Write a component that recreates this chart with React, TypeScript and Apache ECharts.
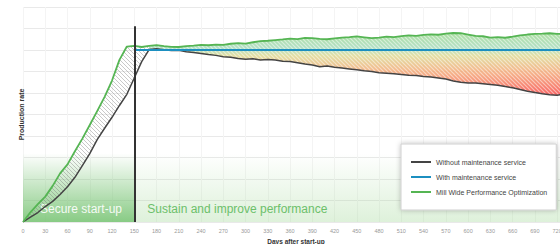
import React, { useEffect, useRef } from 'react';
import * as echarts from 'echarts';

// ---- data ----
const days = [
  0, 10, 20, 30, 40, 50, 60, 70, 80, 90, 100, 110, 120, 130, 140, 150, 160, 170,
  180, 190, 200, 210, 220, 230, 240, 250, 260, 270, 280, 290, 300, 310, 320, 330,
  340, 350, 360, 370, 380, 390, 400, 410, 420, 430, 440, 450, 460, 470, 480, 490,
  500, 510, 520, 530, 540, 550, 560, 570, 580, 590, 600, 610, 620, 630, 640, 650,
  660, 670, 680, 690, 700, 710, 720, 730,
];
const withoutService = [
  0, 2.3, 4.4, 7.2, 9.6, 12.8, 16.4, 20.8, 26.2, 31.8, 38.3, 43.6, 48.7, 54.2, 59.4, 67.0, 74.6, 80.2,
  80.6, 80.1, 79.8, 79.9, 79.2, 78.8, 78.4, 77.9, 77.5, 76.9, 76.6, 76.0, 75.7, 75.9, 75.4, 75.6,
  75.3, 74.8, 74.6, 74.1, 73.5, 73.0, 72.2, 72.6, 72.0, 71.6, 71.2, 70.8, 70.3, 70.0, 69.4, 69.2,
  68.9, 68.6, 68.3, 68.1, 67.7, 67.4, 67.0, 66.5, 65.6, 65.0, 64.7, 64.6, 64.3, 64.0, 63.6, 63.0,
  62.4, 61.6, 60.8, 60.2, 59.6, 59.2, 59.0, 59.4,
];
const millWide = [
  0, 4.5, 8.3, 11.8, 16.8, 22.6, 26.8, 32.9, 38.8, 45.1, 51.6, 58.2, 65.8, 75.4, 81.6, 81.9, 81.4, 81.9,
  82.3, 81.8, 81.5, 81.4, 81.8, 82.0, 82.4, 82.2, 82.5, 82.4, 82.9, 83.2, 83.0, 83.6, 84.1, 84.3,
  84.6, 84.9, 85.3, 85.1, 85.6, 85.5, 85.2, 85.0, 85.4, 85.8, 86.0, 86.3, 85.9, 85.5, 85.8, 86.2,
  86.0, 86.5, 86.8, 86.6, 87.0, 87.3, 87.1, 87.6, 87.9, 87.8, 87.2, 86.6, 86.4, 85.8, 86.0, 85.7,
  86.2, 86.8, 87.2, 87.5, 87.6, 87.8, 87.5, 87.4,
];
const withServiceDays = [150, 730];
const withServiceValues = [80, 80];
const phaseSplitDay = 150;
const rampEndDay = 170;
const phaseLabels = ['Secure start-up', 'Sustain and improve performance'];
const legendNames = [
  'Without maintenance service',
  'With maintenance service',
  'Mill Wide Performance Optimization',
];
const xName = 'Days after start-up';
const yName = 'Production rate';
const xMax = 736;
const xInterval = 30;

function makeHatch(size: number, color: string, lw: number) {
  const c = document.createElement('canvas');
  c.width = size;
  c.height = size;
  const ctx = c.getContext('2d')!;
  ctx.strokeStyle = color;
  ctx.lineWidth = lw;
  ctx.beginPath();
  ctx.moveTo(0, 0);
  ctx.lineTo(size, size);
  ctx.moveTo(size - 1, -1);
  ctx.lineTo(size + 1, 1);
  ctx.moveTo(-1, size - 1);
  ctx.lineTo(1, size + 1);
  ctx.stroke();
  return c;
}

function bandSeries(upper: number[][], lower: number[][], fill: any) {
  return {
    type: 'custom',
    silent: true,
    data: [[0, 0]],
    renderItem: (_params: any, api: any) => {
      const pts = upper
        .map((p) => api.coord(p))
        .concat(lower.slice().reverse().map((p) => api.coord(p)));
      return { type: 'polygon', shape: { points: pts }, style: { fill } };
    },
  };
}

export default function App() {
  const ref = useRef<HTMLDivElement>(null);
  useEffect(() => {
    const chart = echarts.init(ref.current!, null, { renderer: 'svg' });
    const rampIdx = days.indexOf(rampEndDay);
    const blackData = days.map((d, i) => [d, withoutService[i]]);
    const greenData = days.map((d, i) => [d, millWide[i]]);
    const blueData = withServiceDays.map((d, i) => [d, withServiceValues[i]]);

    const grayHatch = makeHatch(4, 'rgba(120,120,120,0.5)', 0.8);
    const lightHatch = makeHatch(4, 'rgba(255,255,255,0.5)', 1.1);

    const postGradient = new echarts.graphic.LinearGradient(0, 0, 0, 1, [
      { offset: 0, color: 'rgba(140,208,125,0.72)' },
      { offset: 0.25, color: 'rgba(150,212,175,0.72)' },
      { offset: 0.36, color: 'rgba(214,210,125,0.72)' },
      { offset: 0.62, color: 'rgba(242,160,105,0.78)' },
      { offset: 1, color: 'rgba(248,80,80,0.9)' },
    ]);

    const option: any = {
      animation: false,
      textStyle: { fontFamily: 'Liberation Sans, Arial, sans-serif' },
      grid: { left: 23, right: -9, top: 7, bottom: 22, outerBoundsMode: 'none', containLabel: false },
      xAxis: {
        type: 'value',
        min: 0,
        max: xMax,
        interval: xInterval,
        name: xName,
        nameLocation: 'middle',
        nameGap: 15,
        nameTextStyle: { fontSize: 6.5, fontWeight: 'bold', color: '#333' },
        axisLine: { show: false },
        axisTick: { show: false },
        axisLabel: { fontSize: 5.5, color: '#999', margin: 5.5, showMaxLabel: false },
        splitLine: { show: true, lineStyle: { color: '#f4f4f4', width: 1 } },
      },
      yAxis: {
        type: 'value',
        min: 0,
        max: 100,
        interval: 10,
        name: yName,
        nameLocation: 'middle',
        nameGap: -2,
        nameTextStyle: { fontSize: 7, fontWeight: 'bold', color: '#333' },
        axisLine: { show: false },
        axisTick: { show: false },
        axisLabel: { show: false },
        splitLine: { show: true, lineStyle: { color: '#e9e9e9', width: 1 } },
      },
      legend: {
        data: legendNames,
        orient: 'vertical',
        left: 401,
        top: 144,
        icon: 'rect',
        itemWidth: 20,
        itemHeight: 2,
        itemGap: 8,
        padding: [14.5, 9, 14.5, 10],
        backgroundColor: '#fff',
        borderColor: '#cfcfcf',
        borderWidth: 1,
        shadowBlur: 5,
        shadowColor: 'rgba(0,0,0,0.25)',
        textStyle: { fontSize: 7, color: '#444' },
      },
      series: [
        {
          type: 'line',
          symbol: 'none',
          silent: true,
          data: [],
          markArea: {
            silent: true,
            data: [
              [
                {
                  name: phaseLabels[0],
                  xAxis: 0,
                  yAxis: 0,
                  itemStyle: {
                    color: new echarts.graphic.LinearGradient(0, 0, 0, 1, [
                      { offset: 0, color: 'rgba(120,196,116,0)' },
                      { offset: 1, color: 'rgba(120,196,116,0.88)' },
                    ]),
                  },
                  label: {
                    show: true,
                    position: 'insideBottomLeft',
                    distance: 0,
                    offset: [17, -7],
                    color: 'rgba(255,255,255,0.92)',
                    fontSize: 12,
                  },
                },
                { xAxis: phaseSplitDay, yAxis: 32 },
              ],
              [
                {
                  name: phaseLabels[1],
                  xAxis: phaseSplitDay,
                  yAxis: 0,
                  itemStyle: {
                    color: new echarts.graphic.LinearGradient(0, 0, 0, 1, [
                      { offset: 0, color: 'rgba(160,215,150,0)' },
                      { offset: 1, color: 'rgba(160,215,150,0.35)' },
                    ]),
                  },
                  label: {
                    show: true,
                    position: 'insideBottomLeft',
                    distance: 0,
                    offset: [13, -7],
                    color: '#6cc06a',
                    fontSize: 12,
                  },
                },
                { xAxis: xMax, yAxis: 32 },
              ],
            ],
          },
        },
        bandSeries(greenData.slice(0, rampIdx + 1), blackData.slice(0, rampIdx + 1), {
          image: grayHatch,
          repeat: 'repeat',
          imageWidth: 4,
          imageHeight: 4,
        }),
        bandSeries(greenData.slice(rampIdx), blackData.slice(rampIdx), postGradient),
        bandSeries(greenData.slice(rampIdx), blackData.slice(rampIdx), {
          image: lightHatch,
          repeat: 'repeat',
          imageWidth: 4,
          imageHeight: 4,
        }),
        {
          type: 'line',
          name: legendNames[0],
          data: blackData,
          symbol: 'none',
          lineStyle: { color: '#444', width: 1.5 },
          itemStyle: { color: '#444' },
        },
        {
          type: 'line',
          name: legendNames[2],
          data: greenData,
          symbol: 'none',
          lineStyle: { color: '#55b553', width: 1.8 },
          itemStyle: { color: '#55b553' },
        },
        {
          type: 'line',
          name: legendNames[1],
          data: blueData,
          symbol: 'none',
          lineStyle: { color: '#1c8fc0', width: 2 },
          itemStyle: { color: '#1c8fc0' },
          markLine: {
            silent: true,
            symbol: ['none', 'none'],
            label: { show: false },
            lineStyle: { color: '#333', width: 2, type: 'solid' },
            data: [[{ coord: [phaseSplitDay, 0] }, { coord: [phaseSplitDay, 91] }]],
          },
        },
      ],
    };
    chart.setOption(option);
    return () => chart.dispose();
  }, []);
  return <div ref={ref} style={{ width: 560, height: 244, position: 'absolute', left: 0, top: 0 }} />;
}
